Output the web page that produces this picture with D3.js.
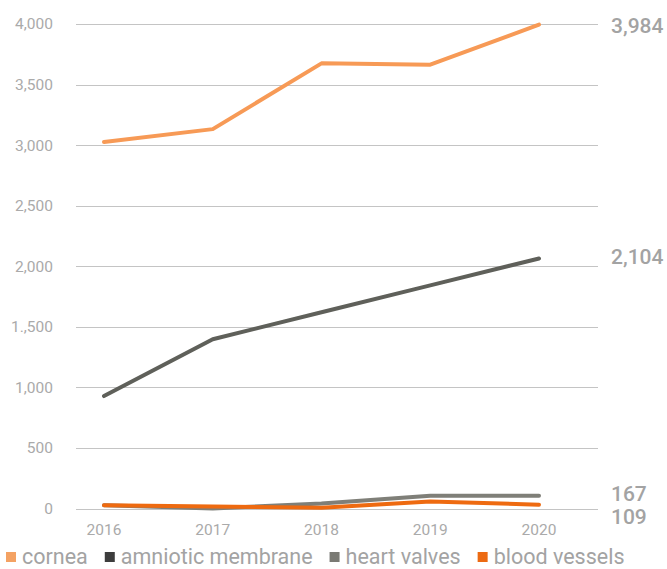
<!DOCTYPE html>
<html>
<head>
<meta charset="utf-8">
<script src="https://cdn.jsdelivr.net/npm/d3@7"></script>
<style>
  body { margin: 0; background: #fff; }
  svg { display: block; font-family: Roboto, "Open Sans", sans-serif; }
</style>
</head>
<body>
<svg width="667" height="569"></svg>
<script>
var years = ["2016", "2017", "2018", "2019", "2020"];
var cornea = [3025, 3132, 3675, 3664, 3995];
var amniotic = [928, 1397, 1620, 1842, 2064];
var heartValves = [27, 0, 42, 105, 105];
var bloodVessels = [27, 17, 6, 58, 31];
var yTicks = [0, 500, 1000, 1500, 2000, 2500, 3000, 3500, 4000];
var yTickLabels = ["0", "500", "1,000", "1.,500", "2,000", "2,500", "3,000", "3,500", "4,000"];
var endLabels = ["3,984", "2,104", "167", "109"];
var seriesNames = ["cornea", "amniotic membrane", "heart valves", "blood vessels"];

var svg = d3.select("svg");

var x = d3.scalePoint().domain(years).range([104, 539]);
var y = d3.scaleLinear().domain([0, 4000]).range([508.5, 24]);

// gridlines + y tick labels
var grid = svg.append("g").attr("class", "grid");
grid.selectAll("line")
    .data(yTicks)
    .enter().append("line")
    .attr("x1", 76).attr("x2", 598)
    .attr("y1", function (d) { return Math.round(y(d)) + 0.5; })
    .attr("y2", function (d) { return Math.round(y(d)) + 0.5; })
    .attr("stroke", "#c4c4c4")
    .attr("stroke-width", 1);

grid.selectAll("text")
    .data(yTicks)
    .enter().append("text")
    .attr("x", 53)
    .attr("y", function (d) { return y(d); })
    .attr("dy", "0.35em")
    .attr("text-anchor", "end")
    .attr("font-size", 15.5)
    .attr("fill", "#aaaaaa")
    .text(function (d, i) { return yTickLabels[i]; });

// x axis labels
svg.append("g").selectAll("text")
    .data(years)
    .enter().append("text")
    .attr("x", function (d) { return x(d); })
    .attr("y", 535)
    .attr("text-anchor", "middle")
    .attr("font-size", 15.5)
    .attr("fill", "#aaaaaa")
    .text(function (d) { return d; });

var series = [
    { name: seriesNames[0], values: cornea, color: "#f79a56", key: "#f4a263" },
    { name: seriesNames[1], values: amniotic, color: "#5f605a", key: "#3d3d3d" },
    { name: seriesNames[2], values: heartValves, color: "#7f7f78", key: "#7a7a74" },
    { name: seriesNames[3], values: bloodVessels, color: "#ee6a10", key: "#ec6a12" }
];

var line = d3.line()
    .x(function (d, i) { return x(years[i]); })
    .y(function (d) { return y(d); });

svg.append("g").selectAll("path")
    .data(series)
    .enter().append("path")
    .attr("d", function (d) { return line(d.values); })
    .attr("fill", "none")
    .attr("stroke", function (d) { return d.color; })
    .attr("stroke-width", 4)
    .attr("stroke-linecap", "round")
    .attr("stroke-linejoin", "round");

// labels on the right
var endY = [26, 257, 494, 517];
svg.append("g").selectAll("text")
    .data(endLabels)
    .enter().append("text")
    .attr("x", 611)
    .attr("y", function (d, i) { return endY[i]; })
    .attr("dy", "0.35em")
    .attr("font-size", 21)
    .attr("font-weight", 500)
    .attr("fill", "#a3a3a3")
    .text(function (d) { return d; });

// legend, laid out one after another
var legend = svg.append("g");
var lx = 6;
series.forEach(function (s) {
    var g = legend.append("g").attr("transform", "translate(" + lx + ",556)");
    g.append("rect")
        .attr("x", 0).attr("y", -4)
        .attr("width", 10).attr("height", 10)
        .attr("fill", s.key);
    var t = g.append("text")
        .attr("x", 16)
        .attr("dy", "0.35em")
        .attr("font-size", 21.5)
        .attr("fill", "#a3a3a3")
        .text(s.name);
    lx += 16 + t.node().getComputedTextLength() + 17;
});
</script>
</body>
</html>
